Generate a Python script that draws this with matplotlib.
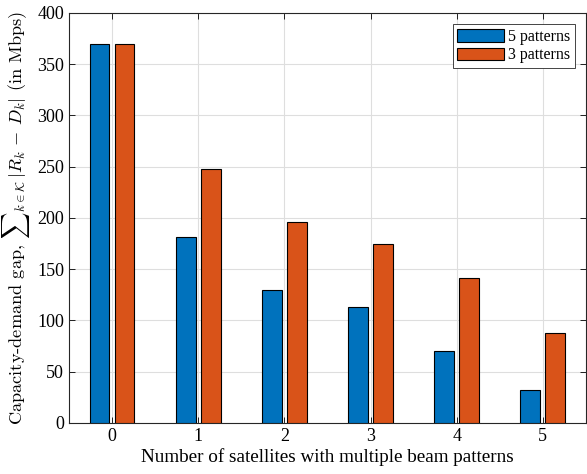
import numpy as np
import matplotlib.pyplot as plt

plt.rcParams['font.family'] = ['Liberation Serif', 'DejaVu Serif']
plt.rcParams['mathtext.fontset'] = 'cm'

satellites = [0, 1, 2, 3, 4, 5]
five_patterns = [370, 181, 130, 113, 70, 32]
three_patterns = [370, 248, 196, 175, 141, 88]
series_names = ['5 patterns', '3 patterns']

blue = '#0072BD'
orange = '#D95319'

fig = plt.figure(figsize=(5.87, 4.74), dpi=100)
ax = fig.add_axes([0.1175, 0.1076, 0.8806, 0.865])

x = np.array(satellites)
w = 0.23
ax.bar(x - 0.145, five_patterns, w, color=blue, edgecolor='black', linewidth=0.8,
       label=series_names[0], zorder=3)
ax.bar(x + 0.145, three_patterns, w, color=orange, edgecolor='black', linewidth=0.8,
       label=series_names[1], zorder=3)

ax.set_xlim(-0.5, 5.5)
ax.set_ylim(0, 400)
ax.set_xticks(satellites)
ax.set_yticks(np.arange(0, 401, 50))
ax.grid(True, color='#dedede', linewidth=0.8, zorder=0)
ax.set_axisbelow(True)
ax.tick_params(direction='in', top=True, right=True, labelsize=13, length=4, width=0.6)
for s in ax.spines.values():
    s.set_linewidth(0.8)
    s.set_color('#262626')

ax.set_xlabel('Number of satellites with multiple beam patterns', fontsize=13.8, labelpad=2)
# ylabel is LaTeX-style in the original, so use Computer Modern for it
ax.set_ylabel(r'Capacity-demand gap, ${\sum}_{k\in\mathcal{K}}\,|R_k\, -\, D_k|$ (in Mbps)',
              fontsize=13.2, labelpad=4, family=['cmr10', 'DejaVu Serif'])

leg = ax.legend(loc='upper right', fontsize=11.5, fancybox=False, edgecolor='#262626',
                framealpha=1, handlelength=2.9, handleheight=0.8, borderpad=0.3,
                labelspacing=0.15, handletextpad=0.25, borderaxespad=0.7)
leg.get_frame().set_linewidth(0.6)

fig.savefig('out.png', dpi=100)
